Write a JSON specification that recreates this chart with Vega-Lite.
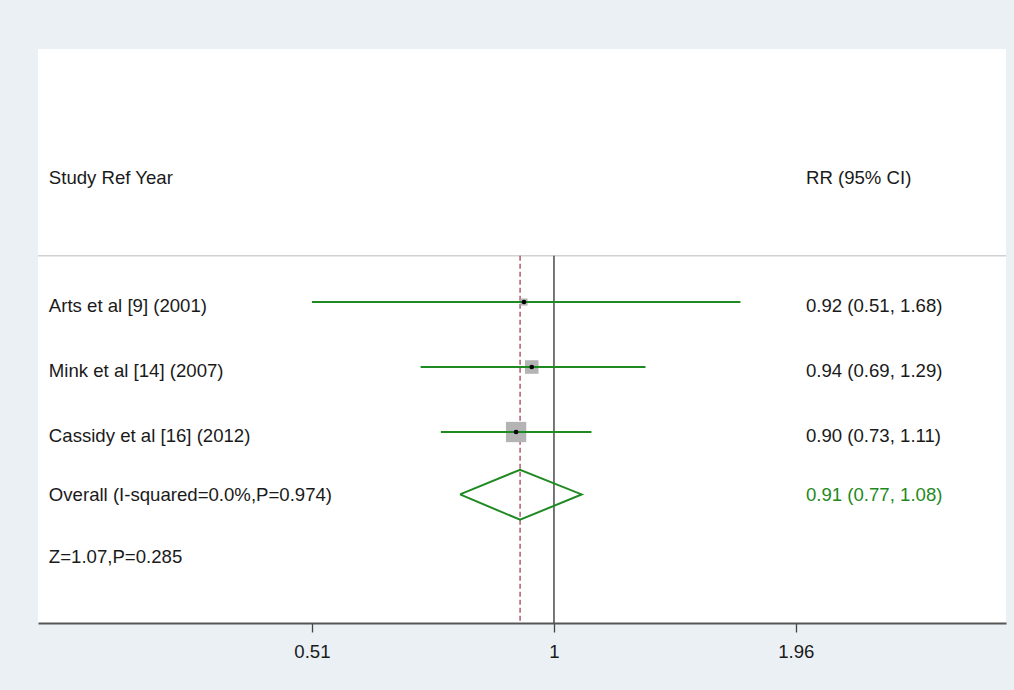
{
  "$schema": "https://vega.github.io/schema/vega-lite/v6.json",
  "width": 968,
  "height": 574,
  "autosize": {"type": "none"},
  "padding": {"left": 38, "top": 49, "right": 8, "bottom": 67},
  "background": "#eaf0f3",
  "datasets": {
    "studies": [
      {"study": "Arts et al [9] (2001)", "rr": 0.92, "lo": 0.51, "hi": 1.68, "weight": 7.85, "row": 1, "ci": "0.92 (0.51, 1.68)"},
      {"study": "Mink et al [14] (2007)", "rr": 0.94, "lo": 0.69, "hi": 1.29, "weight": 28.5, "row": 2, "ci": "0.94 (0.69, 1.29)"},
      {"study": "Cassidy et al [16] (2012)", "rr": 0.90, "lo": 0.73, "hi": 1.11, "weight": 63.6, "row": 3, "ci": "0.90 (0.73, 1.11)"}
    ],
    "diamond": [
      {"x": 0.77, "y": 3.96, "o": 1},
      {"x": 0.91, "y": 3.58, "o": 2},
      {"x": 1.08, "y": 3.96, "o": 3},
      {"x": 0.91, "y": 4.35, "o": 4},
      {"x": 0.77, "y": 3.96, "o": 5}
    ],
    "labels": [
      {"x": 0.2453, "y": -0.92, "text": "Study Ref Year", "kind": "header"},
      {"x": 2.016, "y": -0.92, "text": "RR (95% CI)", "kind": "header"},
      {"x": 0.2453, "y": 3.96, "text": "Overall (I-squared=0.0%,P=0.974)", "kind": "text"},
      {"x": 2.016, "y": 3.96, "text": "0.91 (0.77, 1.08)", "kind": "overall"},
      {"x": 0.2453, "y": 4.9, "text": "Z=1.07,P=0.285", "kind": "text"}
    ],
    "refs": [
      {"x": 1, "y": 0.29, "y2": 5.938, "line": "null"},
      {"x": 0.91, "y": 0.29, "y2": 5.938, "line": "pooled"}
    ]
  },
  "layer": [
    {
      "data": {"values": [{"y": 0.29}]},
      "mark": {"type": "rule", "color": "#d2d2d2", "strokeWidth": 1.5},
      "encoding": {
        "y": {"field": "y", "type": "quantitative", "axis": null, "scale": {"domain": [-2.892, 5.938], "reverse": true, "nice": false, "zero": false}}
      }
    },
    {
      "data": {"name": "refs"},
      "transform": [{"filter": "datum.line == 'null'"}],
      "mark": {"type": "rule", "color": "#4a4a4a", "strokeWidth": 1.5},
      "encoding": {
        "x": {"field": "x", "type": "quantitative", "axis": {"title": null, "values": [0.51, 1, 1.96], "format": "~g"}, "scale": {"type": "log", "domain": [0.238, 3.517], "nice": false, "zero": false}},
        "y": {"field": "y", "type": "quantitative", "axis": null, "scale": {"domain": [-2.892, 5.938], "reverse": true, "nice": false, "zero": false}},
        "y2": {"field": "y2"}
      }
    },
    {
      "data": {"name": "refs"},
      "transform": [{"filter": "datum.line == 'pooled'"}],
      "mark": {"type": "rule", "color": "#993347", "strokeWidth": 1.2, "strokeDash": [5, 3]},
      "encoding": {
        "x": {"field": "x", "type": "quantitative", "axis": {"title": null, "values": [0.51, 1, 1.96], "format": "~g"}, "scale": {"type": "log", "domain": [0.238, 3.517], "nice": false, "zero": false}},
        "y": {"field": "y", "type": "quantitative", "axis": null, "scale": {"domain": [-2.892, 5.938], "reverse": true, "nice": false, "zero": false}},
        "y2": {"field": "y2"}
      }
    },
    {
      "data": {"name": "studies"},
      "mark": {"type": "square", "filled": true, "color": "#b4b4b4", "opacity": 1},
      "encoding": {
        "x": {"field": "rr", "type": "quantitative", "axis": {"title": null, "values": [0.51, 1, 1.96], "format": "~g"}, "scale": {"type": "log", "domain": [0.238, 3.517], "nice": false, "zero": false}},
        "y": {"field": "row", "type": "quantitative", "axis": null, "scale": {"domain": [-2.892, 5.938], "reverse": true, "nice": false, "zero": false}},
        "size": {"field": "weight", "type": "quantitative", "legend": null, "scale": {"type": "linear", "domain": [0, 100], "range": [0, 648]}}
      }
    },
    {
      "data": {"name": "studies"},
      "mark": {"type": "rule", "color": "#1f8a22", "strokeWidth": 2},
      "encoding": {
        "x": {"field": "lo", "type": "quantitative", "axis": {"title": null, "values": [0.51, 1, 1.96], "format": "~g"}, "scale": {"type": "log", "domain": [0.238, 3.517], "nice": false, "zero": false}},
        "x2": {"field": "hi"},
        "y": {"field": "row", "type": "quantitative", "axis": null, "scale": {"domain": [-2.892, 5.938], "reverse": true, "nice": false, "zero": false}}
      }
    },
    {
      "data": {"name": "studies"},
      "mark": {"type": "circle", "color": "#000000", "size": 22, "opacity": 1},
      "encoding": {
        "x": {"field": "rr", "type": "quantitative", "axis": {"title": null, "values": [0.51, 1, 1.96], "format": "~g"}, "scale": {"type": "log", "domain": [0.238, 3.517], "nice": false, "zero": false}},
        "y": {"field": "row", "type": "quantitative", "axis": null, "scale": {"domain": [-2.892, 5.938], "reverse": true, "nice": false, "zero": false}}
      }
    },
    {
      "data": {"name": "diamond"},
      "mark": {"type": "line", "color": "#1f8a22", "strokeWidth": 2},
      "encoding": {
        "x": {"field": "x", "type": "quantitative", "axis": {"title": null, "values": [0.51, 1, 1.96], "format": "~g"}, "scale": {"type": "log", "domain": [0.238, 3.517], "nice": false, "zero": false}},
        "y": {"field": "y", "type": "quantitative", "axis": null, "scale": {"domain": [-2.892, 5.938], "reverse": true, "nice": false, "zero": false}},
        "order": {"field": "o"}
      }
    },
    {
      "data": {"name": "studies"},
      "mark": {"type": "text", "align": "left", "baseline": "middle", "dy": 4, "font": "Liberation Sans", "fontSize": 18.6, "color": "#1a1a1a"},
      "encoding": {
        "x": {"datum": 0.2453, "type": "quantitative", "axis": {"title": null, "values": [0.51, 1, 1.96], "format": "~g"}, "scale": {"type": "log", "domain": [0.238, 3.517], "nice": false, "zero": false}},
        "y": {"field": "row", "type": "quantitative", "axis": null, "scale": {"domain": [-2.892, 5.938], "reverse": true, "nice": false, "zero": false}},
        "text": {"field": "study"}
      }
    },
    {
      "data": {"name": "studies"},
      "mark": {"type": "text", "align": "left", "baseline": "middle", "dy": 4, "font": "Liberation Sans", "fontSize": 18.6, "color": "#1a1a1a"},
      "encoding": {
        "x": {"datum": 2.016, "type": "quantitative", "axis": {"title": null, "values": [0.51, 1, 1.96], "format": "~g"}, "scale": {"type": "log", "domain": [0.238, 3.517], "nice": false, "zero": false}},
        "y": {"field": "row", "type": "quantitative", "axis": null, "scale": {"domain": [-2.892, 5.938], "reverse": true, "nice": false, "zero": false}},
        "text": {"field": "ci"}
      }
    },
    {
      "data": {"name": "labels"},
      "mark": {"type": "text", "align": "left", "baseline": "middle", "dy": 1, "font": "Liberation Sans", "fontSize": 18.6},
      "encoding": {
        "x": {"field": "x", "type": "quantitative", "axis": {"title": null, "values": [0.51, 1, 1.96], "format": "~g"}, "scale": {"type": "log", "domain": [0.238, 3.517], "nice": false, "zero": false}},
        "y": {"field": "y", "type": "quantitative", "axis": null, "scale": {"domain": [-2.892, 5.938], "reverse": true, "nice": false, "zero": false}},
        "text": {"field": "text"},
        "color": {
          "condition": {"test": "datum.kind == 'overall'", "value": "#1f8a22"},
          "value": "#1a1a1a"
        }
      }
    }
  ],
  "config": {
    "view": {"stroke": null, "fill": "#ffffff"},
    "axisX": {
      "grid": false,
      "domainColor": "#555555",
      "domainWidth": 2,
      "tickColor": "#444444",
      "tickWidth": 1.3,
      "tickSize": 9,
      "labelPadding": 10,
      "labelFont": "Liberation Sans",
      "labelFontSize": 18.6,
      "labelColor": "#1a1a1a"
    }
  }
}
